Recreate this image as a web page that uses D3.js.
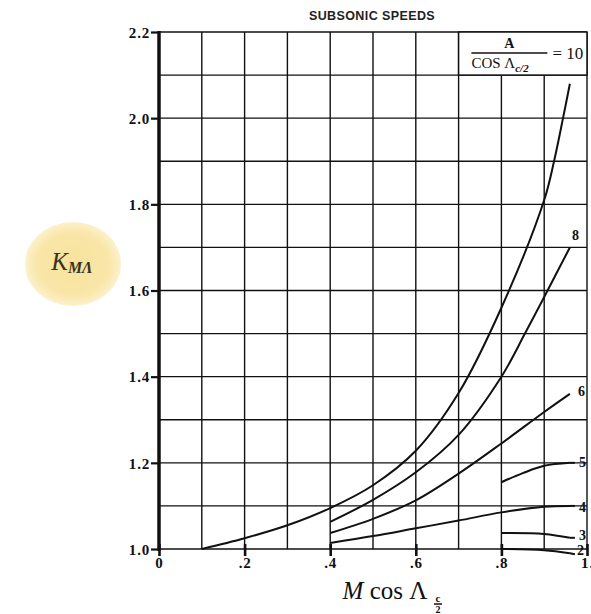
<!DOCTYPE html>
<html>
<head>
<meta charset="utf-8">
<script src="https://cdn.jsdelivr.net/npm/d3@7"></script>
<style>
  body { margin: 0; background: #fff; }
  svg { display: block; }
  .tick-label { font-family: 'Liberation Serif', serif; font-weight: bold; font-size: 15px; letter-spacing: 0.8px; fill: #111; }
  .curve { fill: none; stroke: #111; stroke-width: 2; }
  .grid line { stroke: #111; stroke-width: 1.4; }
</style>
</head>
<body>
<svg id="chart" width="591" height="614"></svg>
<script>
'use strict';

// x = M cos(sweep c/2), y = K_MΛ, one pair of arrays per A / cos Λc/2 curve
var curveNames = ['10', '8', '6', '5', '4', '3', '2'];
var mach10 = [0.1, 0.2, 0.3, 0.4, 0.5, 0.6, 0.7, 0.8, 0.9, 0.923, 0.944, 0.96];
var k10 = [1.0, 1.025, 1.055, 1.095, 1.148, 1.228, 1.362, 1.56, 1.81, 1.9, 2.0, 2.08];
var mach8 = [0.4, 0.5, 0.6, 0.7, 0.8, 0.855, 0.9, 0.96];
var k8 = [1.063, 1.114, 1.178, 1.265, 1.40, 1.5, 1.585, 1.70];
var mach6 = [0.4, 0.5, 0.6, 0.7, 0.8, 0.9, 0.96];
var k6 = [1.037, 1.07, 1.113, 1.175, 1.245, 1.318, 1.36];
var mach5 = [0.8, 0.85, 0.9, 0.96];
var k5 = [1.155, 1.176, 1.193, 1.20];
var mach4 = [0.4, 0.5, 0.6, 0.7, 0.8, 0.9, 0.96];
var k4 = [1.014, 1.03, 1.048, 1.066, 1.085, 1.098, 1.10];
var mach3 = [0.8, 0.9, 0.96];
var k3 = [1.037, 1.035, 1.026];
var mach2 = [0.8, 0.9, 0.96];
var k2 = [1.0, 0.997, 0.99];

var xTicks = [0, 0.2, 0.4, 0.6, 0.8, 1.0];
var xTickLabels = ['0', '.2', '.4', '.6', '.8', '1.'];
var yTicks = [1.0, 1.2, 1.4, 1.6, 1.8, 2.0, 2.2];
var yTickLabels = ['1.0', '1.2', '1.4', '1.6', '1.8', '2.0', '2.2'];

var svg = d3.select('#chart');

var margins = { left: 159, right: 4, top: 32, bottom: 65 };
var width = 591 - margins.left - margins.right;
var height = 614 - margins.top - margins.bottom;

var x = d3.scaleLinear().domain([0, 1]).range([0, width]);
var y = d3.scaleLinear().domain([1.0, 2.2]).range([height, 0]);

var g = svg.append('g').attr('transform', 'translate(' + margins.left + ',' + margins.top + ')');

// grid every 0.1 both ways
var gridX = d3.range(0, 11).map(function (i) { return i / 10; });
var gridY = d3.range(0, 13).map(function (i) { return 1 + i / 10; });

var grid = g.append('g').attr('class', 'grid');
grid.selectAll('line.v').data(gridX).enter().append('line')
	.attr('class', 'v')
	.attr('x1', function (d) { return x(d); })
	.attr('x2', function (d) { return x(d); })
	.attr('y1', y(2.2)).attr('y2', y(1.0));
grid.selectAll('line.h').data(gridY).enter().append('line')
	.attr('class', 'h')
	.attr('x1', 0).attr('x2', width)
	.attr('y1', function (d) { return y(d); })
	.attr('y2', function (d) { return y(d); });

// heavy left axis
g.append('line').attr('x1', 0).attr('x2', 0).attr('y1', y(2.2) - 1).attr('y2', y(1.0) + 2)
	.attr('stroke', '#111').attr('stroke-width', 3.5);

// y ticks
var yAxis = d3.axisLeft(y).tickValues(yTicks).tickSize(8).tickFormat(function (d, i) { return yTickLabels[i]; });
var yAxisG = g.append('g').call(yAxis);
yAxisG.select('.domain').remove();
yAxisG.selectAll('.tick line').attr('stroke', '#111').attr('stroke-width', 2.2);
yAxisG.selectAll('.tick text').attr('class', 'tick-label').attr('x', -9).attr('dy', '0.35em');

// x ticks
var xAxis = d3.axisBottom(x).tickValues(xTicks).tickSize(7).tickFormat(function (d, i) { return xTickLabels[i]; });
var xAxisG = g.append('g').attr('transform', 'translate(0,' + height + ')').call(xAxis);
xAxisG.select('.domain').remove();
xAxisG.selectAll('.tick line').attr('stroke', '#111').attr('stroke-width', 2.6).attr('y1', -5);
xAxisG.selectAll('.tick text').attr('class', 'tick-label').attr('font-size', 15).attr('y', 8).attr('dy', '0.71em');

// curves
var line = d3.line()
	.x(function (d) { return x(d[0]); })
	.y(function (d) { return y(d[1]); })
	.curve(d3.curveCatmullRom.alpha(0.5));

var series = [
	[mach10, k10], [mach8, k8], [mach6, k6], [mach5, k5], [mach4, k4], [mach3, k3], [mach2, k2]
].map(function (s, i) {
	return { name: curveNames[i], pts: s[0].map(function (m, j) { return [m, s[1][j]]; }) };
});

g.selectAll('path.curve').data(series).enter().append('path')
	.attr('class', 'curve')
	.attr('d', function (d) { return line(d.pts); });

// little leader dashes to the right-hand labels
['5', '4', '3', '2'].forEach(function (n) {
	var s = series.find(function (d) { return d.name === n; });
	var last = s.pts[s.pts.length - 1];
	g.append('line')
		.attr('x1', x(last[0])).attr('x2', x(last[0]) + 5)
		.attr('y1', y(last[1])).attr('y2', y(last[1]) + (n === '2' ? 1 : 0))
		.attr('stroke', '#111').attr('stroke-width', 2);
});

// curve labels
var labelOffset = { '8': [2, -12], '6': [8, -3], '5': [9, 0], '4': [9, 1], '3': [9, -2], '2': [7, -3] };
series.forEach(function (s) {
	if (!labelOffset[s.name]) return;
	var last = s.pts[s.pts.length - 1];
	g.append('text')
		.attr('x', x(last[0]) + labelOffset[s.name][0])
		.attr('y', y(last[1]) + labelOffset[s.name][1])
		.attr('dy', '0.33em')
		.attr('font-family', 'Liberation Serif, serif')
		.attr('font-weight', 'bold')
		.attr('font-size', 14)
		.attr('fill', '#111')
		.text(s.name);
});

// legend box in the top-right cell block
var box = g.append('g');
box.append('rect')
	.attr('x', x(0.7)).attr('y', y(2.2))
	.attr('width', x(1.0) - x(0.7)).attr('height', y(2.1) - y(2.2))
	.attr('fill', '#fff').attr('stroke', '#111').attr('stroke-width', 1.5);
var fx = (x(0.7) + x(0.9)) / 2 + 8;
box.append('text').attr('x', fx).attr('y', y(2.2) + 16)
	.attr('text-anchor', 'middle').attr('font-family', 'Liberation Serif, serif').attr('font-weight', 'bold')
	.attr('font-size', 14).attr('fill', '#111').text('A');
box.append('line').attr('x1', fx - 38).attr('x2', fx + 38)
	.attr('y1', y(2.2) + 21).attr('y2', y(2.2) + 21)
	.attr('stroke', '#111').attr('stroke-width', 1.5);
var den = box.append('text').attr('x', fx - 38).attr('y', y(2.2) + 36)
	.attr('font-family', 'Liberation Serif, serif').attr('font-size', 15).attr('fill', '#111');
den.append('tspan').text('COS \u039B');
den.append('tspan').attr('font-size', 11).attr('font-style', 'italic').attr('font-weight', 'bold').attr('dy', 4).text('c/2');
box.append('text').attr('x', fx + 43).attr('y', y(2.2) + 27)
	.attr('font-family', 'Liberation Serif, serif').attr('font-size', 17)
	.attr('fill', '#111').text('= 10');

// title
svg.append('text').attr('x', 372).attr('y', 20)
	.attr('text-anchor', 'middle')
	.attr('font-family', 'Liberation Sans, sans-serif')
	.attr('font-size', 12.5).attr('font-weight', 'bold').attr('letter-spacing', 0.4).attr('fill', '#222')
	.text('SUBSONIC SPEEDS');

// y axis label in a pale yellow blob
var defs = svg.append('defs');
var grad = defs.append('radialGradient').attr('id', 'blob');
grad.append('stop').attr('offset', '0%').attr('stop-color', '#f8e29c');
grad.append('stop').attr('offset', '75%').attr('stop-color', '#f9e6a8');
grad.append('stop').attr('offset', '100%').attr('stop-color', '#fcf1cc');
svg.append('ellipse').attr('cx', 73).attr('cy', 264).attr('rx', 48).attr('ry', 42).attr('fill', 'url(#blob)');
var kLabel = svg.append('text').attr('x', 72).attr('y', 270).attr('text-anchor', 'middle')
	.attr('font-family', 'Liberation Serif, serif').attr('font-style', 'italic').attr('fill', '#3a3220');
kLabel.append('tspan').attr('font-size', 25).text('K');
kLabel.append('tspan').attr('font-size', 16).attr('font-weight', 'bold').attr('dy', 3).text('M\u039B');

// x axis label
var xLabel = svg.append('text').attr('x', 385).attr('y', 599).attr('text-anchor', 'middle')
	.attr('font-family', 'Liberation Serif, serif').attr('font-size', 25).attr('fill', '#111');
xLabel.append('tspan').attr('font-style', 'italic').text('M');
xLabel.append('tspan').text(' cos \u039B');
svg.append('text').attr('x', 438).attr('y', 602).attr('text-anchor', 'middle')
	.attr('font-family', 'Liberation Serif, serif').attr('font-weight', 'bold').attr('font-size', 11).attr('fill', '#111').text('c');
svg.append('line').attr('x1', 434).attr('x2', 442).attr('y1', 604).attr('y2', 604).attr('stroke', '#111').attr('stroke-width', 1.5);
svg.append('text').attr('x', 438).attr('y', 613).attr('text-anchor', 'middle')
	.attr('font-family', 'Liberation Serif, serif').attr('font-weight', 'bold').attr('font-size', 10).attr('fill', '#111').text('2');
</script>
</body>
</html>
